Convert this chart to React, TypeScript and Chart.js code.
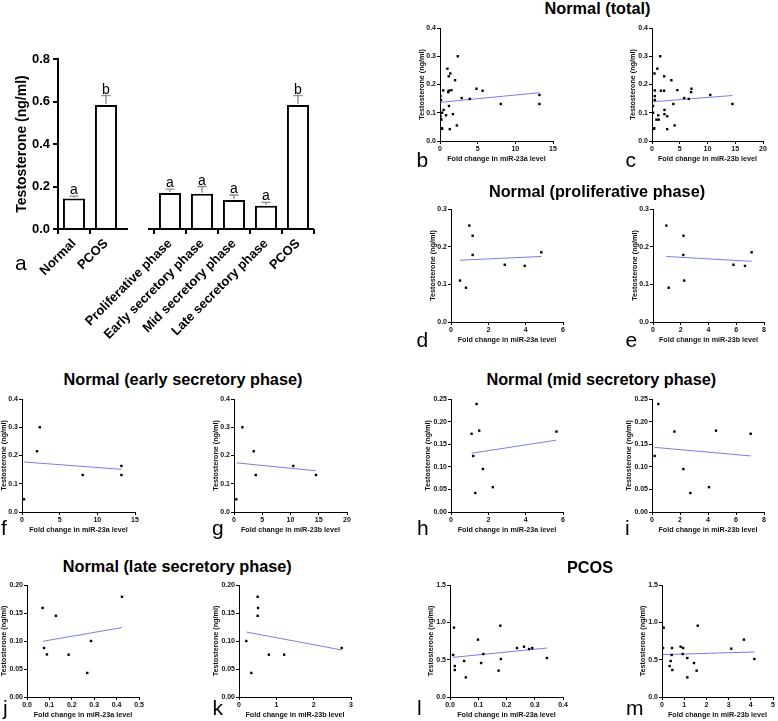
import React, { useEffect, useRef } from 'react';
import { Chart, registerables } from 'chart.js';
Chart.register(...registerables);

const FONT = '"Liberation Sans", Arial, Helvetica, sans-serif';

// ---------- Panel a (bar chart) ----------
const barCategories = ['Normal', 'PCOS', '', 'Proliferative phase', 'Early secretory phase', 'Mid secretory phase', 'Late secretory phase', 'PCOS'];
const barMeans: (number | null)[] = [0.143, 0.583, null, 0.169, 0.166, 0.136, 0.110, 0.583];
const barSem: (number | null)[] = [0.012, 0.045, null, 0.019, 0.034, 0.024, 0.015, 0.045];
const barLetters = ['a', 'b', '', 'a', 'a', 'a', 'a', 'b'];
const barYTicks = [0, 0.2, 0.4, 0.6, 0.8];

// ---------- Scatter data ----------
// Proliferative phase
const prolif23aX = [0.48, 0.80, 0.98, 1.16, 1.16, 2.88, 3.95, 4.84];
const prolif23aY = [0.110, 0.091, 0.256, 0.229, 0.178, 0.152, 0.149, 0.185];
const prolif23aFit = [[0.48, 0.164], [4.84, 0.174]];
const prolif23bX = [0.96, 1.13, 2.20, 2.18, 2.25, 5.80, 6.63, 7.11];
const prolif23bY = [0.256, 0.091, 0.229, 0.178, 0.110, 0.152, 0.149, 0.185];
const prolif23bFit = [[0.96, 0.174], [7.11, 0.161]];
// Early secretory phase
const early23aX = [0.27, 2.0, 2.36, 8.06, 13.2, 13.2];
const early23aY = [0.045, 0.215, 0.300, 0.131, 0.163, 0.131];
const early23aFit = [[0.27, 0.177], [13.2, 0.151]];
const early23bX = [0.41, 1.48, 3.49, 3.85, 10.5, 14.5];
const early23bY = [0.045, 0.300, 0.215, 0.131, 0.163, 0.131];
const early23bFit = [[0.41, 0.174], [14.5, 0.146]];
// Mid secretory phase
const mid23aX = [1.10, 1.19, 1.30, 1.37, 1.51, 1.71, 2.24, 5.65];
const mid23aY = [0.173, 0.124, 0.042, 0.239, 0.180, 0.095, 0.055, 0.178];
const mid23aFit = [[1.10, 0.130], [5.65, 0.159]];
const mid23bX = [0.19, 0.45, 1.60, 2.24, 2.74, 4.07, 4.57, 7.05];
const mid23bY = [0.124, 0.239, 0.178, 0.095, 0.042, 0.055, 0.180, 0.173];
const mid23bFit = [[0.19, 0.143], [7.05, 0.124]];
// Late secretory phase
const late23aX = [0.070, 0.076, 0.089, 0.129, 0.186, 0.269, 0.286, 0.424];
const late23aY = [0.159, 0.0875, 0.076, 0.145, 0.0756, 0.043, 0.100, 0.179];
const late23aFit = [[0.070, 0.0994], [0.424, 0.124]];
const late23bX = [0.196, 0.33, 0.50, 0.51, 0.50, 0.80, 1.21, 2.75];
const late23bY = [0.100, 0.043, 0.179, 0.159, 0.145, 0.0756, 0.0756, 0.0875];
const late23bFit = [[0.196, 0.116], [2.75, 0.084]];
// Normal (total) = all phases together
const total23aX = [...prolif23aX, ...early23aX, ...mid23aX, ...late23aX];
const total23aY = [...prolif23aY, ...early23aY, ...mid23aY, ...late23aY];
const total23aFit = [[0.07, 0.137], [13.2, 0.171]];
const total23bX = [...prolif23bX, ...early23bX, ...mid23bX, ...late23bX];
const total23bY = [...prolif23bY, ...early23bY, ...mid23bY, ...late23bY];
const total23bFit = [[0.19, 0.139], [14.5, 0.161]];
// PCOS
const pcos23aX = [0.011, 0.014, 0.017, 0.017, 0.050, 0.056, 0.099, 0.110, 0.118, 0.172, 0.178, 0.180, 0.237, 0.262, 0.280, 0.291, 0.343];
const pcos23aY = [0.5625, 0.929, 0.415, 0.362, 0.482, 0.263, 0.768, 0.455, 0.576, 0.353, 0.955, 0.509, 0.656, 0.674, 0.643, 0.656, 0.522];
const pcos23aFit = [[0.011, 0.531], [0.343, 0.656]];
const pcos23bX = [0.045, 0.075, 0.345, 0.39, 0.435, 0.45, 0.465, 0.84, 0.93, 0.95, 1.14, 1.14, 1.44, 1.56, 1.61, 3.12, 3.69, 4.16];
const pcos23bY = [0.656, 0.929, 0.415, 0.482, 0.5625, 0.656, 0.362, 0.674, 0.576, 0.656, 0.522, 0.263, 0.455, 0.353, 0.955, 0.647, 0.768, 0.509];
const pcos23bFit = [[0.045, 0.567], [4.16, 0.603]];

// Tick values
const xTicks15 = [0, 5, 10, 15];
const xTicks20 = [0, 5, 10, 15, 20];
const xTicks6 = [0, 2, 4, 6];
const xTicks8 = [0, 2, 4, 6, 8];
const xTicks05 = [0, 0.1, 0.2, 0.3, 0.4, 0.5];
const xTicks3 = [0, 1, 2, 3];
const xTicks04 = [0, 0.1, 0.2, 0.3, 0.4];
const xTicks5 = [0, 1, 2, 3, 4, 5];
const yTicks04 = [0, 0.1, 0.2, 0.3, 0.4];
const yTicks03 = [0, 0.1, 0.2, 0.3];
const yTicks025 = [0, 0.05, 0.10, 0.15, 0.20, 0.25];
const yTicks020 = [0, 0.05, 0.10, 0.15, 0.20];
const yTicks15 = [0, 0.5, 1.0, 1.5];

const LABEL_A = 'Fold change in miR-23a level';
const LABEL_B = 'Fold change in miR-23b level';
const Y_LABEL = 'Testosterone (ng/ml)';

type Spec = {
  key: string; axisX: number; top: number; w: number; h: number;
  xTicks: number[]; xDec: number; yTicks: number[]; yDec: number; titleOff: number;
  xLabel: string; xs: number[]; ys: number[]; fit: number[][];
};

const specs: Spec[] = [
  { key: 'b', axisX: 440, top: 28, w: 113, h: 113, xTicks: xTicks15, xDec: 0, yTicks: yTicks04, yDec: 1, titleOff: 18, xLabel: LABEL_A, xs: total23aX, ys: total23aY, fit: total23aFit },
  { key: 'c', axisX: 652, top: 28, w: 111, h: 113, xTicks: xTicks20, xDec: 0, yTicks: yTicks04, yDec: 1, titleOff: 19, xLabel: LABEL_B, xs: total23bX, ys: total23bY, fit: total23bFit },
  { key: 'd', axisX: 451, top: 209, w: 112, h: 113, xTicks: xTicks6, xDec: 0, yTicks: yTicks03, yDec: 1, titleOff: 18, xLabel: LABEL_A, xs: prolif23aX, ys: prolif23aY, fit: prolif23aFit },
  { key: 'e', axisX: 653, top: 209, w: 111, h: 113, xTicks: xTicks8, xDec: 0, yTicks: yTicks03, yDec: 1, titleOff: 18, xLabel: LABEL_B, xs: prolif23bX, ys: prolif23bY, fit: prolif23bFit },
  { key: 'f', axisX: 22, top: 399, w: 113, h: 113, xTicks: xTicks15, xDec: 0, yTicks: yTicks04, yDec: 1, titleOff: 18, xLabel: LABEL_A, xs: early23aX, ys: early23aY, fit: early23aFit },
  { key: 'g', axisX: 234, top: 399, w: 113, h: 113, xTicks: xTicks20, xDec: 0, yTicks: yTicks04, yDec: 1, titleOff: 18, xLabel: LABEL_B, xs: early23bX, ys: early23bY, fit: early23bFit },
  { key: 'h', axisX: 451, top: 399, w: 112, h: 113, xTicks: xTicks6, xDec: 0, yTicks: yTicks025, yDec: 2, titleOff: 23.4, xLabel: LABEL_A, xs: mid23aX, ys: mid23aY, fit: mid23aFit },
  { key: 'i', axisX: 652, top: 399, w: 112, h: 113, xTicks: xTicks8, xDec: 0, yTicks: yTicks025, yDec: 2, titleOff: 23.4, xLabel: LABEL_B, xs: mid23bX, ys: mid23bY, fit: mid23bFit },
  { key: 'j', axisX: 27, top: 585, w: 112, h: 112, xTicks: xTicks05, xDec: 1, yTicks: yTicks020, yDec: 2, titleOff: 23.4, xLabel: LABEL_A, xs: late23aX, ys: late23aY, fit: late23aFit },
  { key: 'k', axisX: 239, top: 585, w: 112, h: 112, xTicks: xTicks3, xDec: 0, yTicks: yTicks020, yDec: 2, titleOff: 23.4, xLabel: LABEL_B, xs: late23bX, ys: late23bY, fit: late23bFit },
  { key: 'l', axisX: 450, top: 585, w: 113, h: 112, xTicks: xTicks04, xDec: 1, yTicks: yTicks15, yDec: 1, titleOff: 18.6, xLabel: LABEL_A, xs: pcos23aX, ys: pcos23aY, fit: pcos23aFit },
  { key: 'm', axisX: 662, top: 585, w: 111, h: 112, xTicks: xTicks5, xDec: 0, yTicks: yTicks15, yDec: 1, titleOff: 19, xLabel: LABEL_B, xs: pcos23bX, ys: pcos23bY, fit: pcos23bFit },
];

const YW = 32, XH = 26, PT = 10, PR = 10;

function scatterConfig(s: Spec): any {
  const tickFont = { family: FONT, size: 7, weight: 'bold' };
  const titleFont = { family: FONT, size: 7.2, weight: 'bold' };
  return {
    type: 'scatter',
    data: {
      datasets: [
        {
          data: s.xs.map((x, i) => ({ x, y: s.ys[i] })),
          pointStyle: 'rect', pointRadius: 1.7, pointBackgroundColor: '#000', pointBorderWidth: 0,
          showLine: false, order: 1,
        },
        {
          data: s.fit.map(([x, y]) => ({ x, y })),
          showLine: true, borderColor: 'rgb(125,125,232)', borderWidth: 1, pointRadius: 0, order: 2,
        },
      ],
    },
    options: {
      animation: false, responsive: false, events: [],
      layout: { padding: { top: PT, right: PR, left: 0, bottom: 0 } },
      plugins: { legend: { display: false }, tooltip: { enabled: false } },
      scales: {
        x: {
          type: 'linear', min: s.xTicks[0], max: s.xTicks[s.xTicks.length - 1],
          afterBuildTicks: (sc: any) => { sc.ticks = s.xTicks.map((v) => ({ value: v })); },
          afterFit: (sc: any) => { sc.height = XH; },
          border: { display: true, color: '#000', width: 1 },
          grid: { display: true, drawOnChartArea: false, drawTicks: true, tickLength: 3, color: '#000', lineWidth: 1 },
          ticks: { font: tickFont, color: '#111', padding: 1, maxRotation: 0, autoSkip: false, callback: (v: any) => Number(v).toFixed(s.xDec) },
          title: { display: true, text: s.xLabel, font: titleFont, color: '#111', padding: { top: 0, bottom: 3.5 } },
        },
        y: {
          type: 'linear', min: s.yTicks[0], max: s.yTicks[s.yTicks.length - 1],
          afterBuildTicks: (sc: any) => { sc.ticks = s.yTicks.map((v) => ({ value: v })); },
          afterFit: (sc: any) => { sc.width = YW; },
          border: { display: true, color: '#000', width: 1 },
          grid: { display: true, drawOnChartArea: false, drawTicks: true, tickLength: 3, color: '#000', lineWidth: 1 },
          ticks: { font: tickFont, color: '#111', padding: 1, autoSkip: false, callback: (v: any) => Number(v).toFixed(s.yDec) },
          title: { display: true, text: Y_LABEL, font: titleFont, color: '#111', padding: { top: YW - s.titleOff - 4.32, bottom: 0 } },
        },
      },
    },
  };
}

const barDecorPlugin = {
  id: 'barDecor',
  afterDatasetsDraw(chart: any) {
    const { ctx, chartArea, scales } = chart;
    const xs = scales.x, ys = scales.y;
    const meta = chart.getDatasetMeta(0);
    ctx.save();
    const gapX = xs.getPixelForTick(2);
    ctx.strokeStyle = '#000';
    ctx.lineWidth = 2;
    ctx.beginPath();
    ctx.moveTo(chartArea.left - 1, chartArea.bottom);
    ctx.lineTo(gapX - 10, chartArea.bottom);
    ctx.moveTo(gapX + 10, chartArea.bottom);
    ctx.lineTo(chartArea.right, chartArea.bottom);
    ctx.stroke();
    barMeans.forEach((m, i) => {
      if (m == null) return;
      const x = meta.data[i].x;
      const y0 = ys.getPixelForValue(m);
      const y1 = ys.getPixelForValue(m + (barSem[i] as number));
      ctx.strokeStyle = '#8a8a8a';
      ctx.lineWidth = 1.3;
      ctx.beginPath();
      ctx.moveTo(x, y0 - 1);
      ctx.lineTo(x, y1);
      ctx.moveTo(x - 4.5, y1);
      ctx.lineTo(x + 4.5, y1);
      ctx.stroke();
      ctx.fillStyle = '#000';
      ctx.font = `14px ${FONT}`;
      ctx.textAlign = 'center';
      ctx.textBaseline = 'alphabetic';
      ctx.fillText(barLetters[i], x, y1 - 2);
    });
    ctx.restore();
  },
};

function barConfig(): any {
  const tickFont = { family: FONT, size: 13, weight: 'bold' };
  return {
    type: 'bar',
    data: {
      labels: barCategories,
      datasets: [{
        data: barMeans, backgroundColor: '#fff', borderColor: '#000', borderWidth: 2,
        barPercentage: 0.69, categoryPercentage: 1,
      }],
    },
    options: {
      animation: false, responsive: false, events: [],
      layout: { padding: { top: 19, right: 20, left: 0, bottom: 0 } },
      plugins: { legend: { display: false }, tooltip: { enabled: false } },
      scales: {
        x: {
          afterFit: (sc: any) => { sc.height = 115; },
          border: { display: false },
          grid: {
            display: true, drawOnChartArea: false, drawTicks: true, tickLength: 5, lineWidth: 2,
            color: (c: any) => (c.index === 2 ? 'rgba(0,0,0,0)' : '#000'),
          },
          ticks: { font: tickFont, color: '#000', minRotation: 45, maxRotation: 45, padding: 2, autoSkip: false },
        },
        y: {
          min: 0, max: 0.8,
          afterBuildTicks: (sc: any) => { sc.ticks = barYTicks.map((v) => ({ value: v })); },
          afterFit: (sc: any) => { sc.width = 58; },
          border: { display: true, color: '#000', width: 2 },
          grid: { display: true, drawOnChartArea: false, drawTicks: true, tickLength: 5, lineWidth: 2, color: '#000' },
          ticks: { font: tickFont, color: '#000', padding: 3, callback: (v: any) => Number(v).toFixed(1) },
          title: { display: true, text: Y_LABEL, font: { family: FONT, size: 14, weight: 'bold' }, color: '#000', padding: { top: 14.1, bottom: 0 } },
        },
      },
    },
    plugins: [barDecorPlugin],
  };
}

function ChartCanvas(props: { make: () => any; left: number; top: number; width: number; height: number }) {
  const ref = useRef<HTMLCanvasElement | null>(null);
  useEffect(() => {
    const ch = new Chart(ref.current as HTMLCanvasElement, props.make());
    return () => ch.destroy();
  }, []);
  return (
    <canvas
      ref={ref}
      width={props.width}
      height={props.height}
      style={{ position: 'absolute', left: props.left, top: props.top, width: props.width, height: props.height }}
    />
  );
}

const titles = [
  { text: 'Normal (total)', x: 597.5, top: 0.3 },
  { text: 'Normal (proliferative phase)', x: 597, top: 182.8 },
  { text: 'Normal (early secretory phase)', x: 183, top: 370.6 },
  { text: 'Normal (mid secretory phase)', x: 601.3, top: 370.6 },
  { text: 'Normal (late secretory phase)', x: 177.3, top: 558.1 },
  { text: 'PCOS', x: 590, top: 558.7 },
];

const letters = [
  { t: 'a', x: 15, top: 252.2 },
  { t: 'b', x: 416.5, top: 148.9 },
  { t: 'c', x: 625.5, top: 148.9 },
  { t: 'd', x: 416.5, top: 328.9 },
  { t: 'e', x: 625.5, top: 328.9 },
  { t: 'f', x: 1, top: 516.7 },
  { t: 'g', x: 212, top: 516.7 },
  { t: 'h', x: 417, top: 516.7 },
  { t: 'i', x: 625, top: 516.7 },
  { t: 'j', x: 3, top: 697.2 },
  { t: 'k', x: 212.5, top: 697.2 },
  { t: 'l', x: 417, top: 697.2 },
  { t: 'm', x: 626, top: 697.2 },
];

export default function App() {
  return (
    <div style={{ position: 'absolute', left: 0, top: 0, width: 778, height: 721, overflow: 'hidden', background: '#fff', fontFamily: FONT }}>
      <ChartCanvas make={barConfig} left={0} top={40} width={334} height={304} />
      {specs.map((s) => (
        <ChartCanvas
          key={s.key}
          make={() => scatterConfig(s)}
          left={s.axisX - YW}
          top={s.top - PT}
          width={YW + s.w + PR}
          height={PT + s.h + XH}
        />
      ))}
      {titles.map((t) => (
        <div key={t.text} style={{ position: 'absolute', left: t.x, top: t.top, transform: 'translateX(-50%)', fontSize: 16.3, lineHeight: '16.3px', fontWeight: 'bold', whiteSpace: 'nowrap', color: '#000' }}>
          {t.text}
        </div>
      ))}
      {letters.map((l) => (
        <div key={l.t} style={{ position: 'absolute', left: l.x, top: l.top, fontSize: 21, lineHeight: '21px', whiteSpace: 'nowrap', color: '#000' }}>
          {l.t}
        </div>
      ))}
    </div>
  );
}
